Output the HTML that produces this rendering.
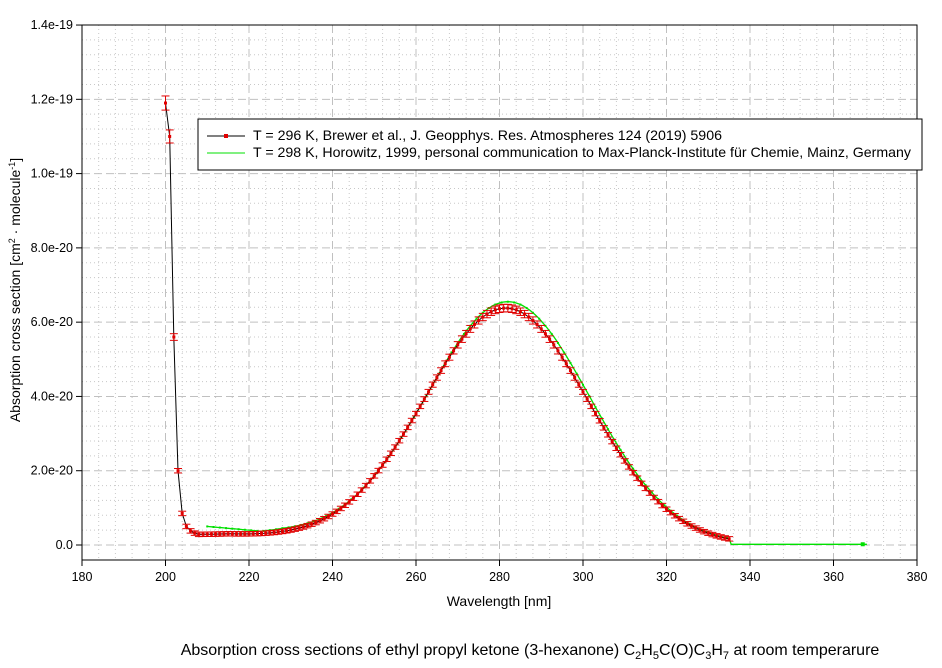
<!DOCTYPE html>
<html><head><meta charset="utf-8"><style>
body{margin:0;background:#fff;}
svg{display:block;font-family:"Liberation Sans",sans-serif;}
</style></head><body>
<svg id="s" width="942" height="668" xmlns="http://www.w3.org/2000/svg"></svg>
<script>
const s=document.getElementById('s');
const X=v=>82+(v-180)*835/200, Y=v=>545-v*37.14;
let h='';
for(let v=184;v<380;v+=4){if((v-180)%20)h+=`<line x1="${X(v)}" y1="25" x2="${X(v)}" y2="560" stroke="#c8c8c8" stroke-dasharray="1,3"/>`;}
for(let v=0.4;v<14;v+=0.4){if(Math.abs(v/2-Math.round(v/2))>0.01)h+=`<line x1="82" y1="${Y(v)}" x2="917" y2="${Y(v)}" stroke="#c8c8c8" stroke-dasharray="1,3"/>`;}
for(let v=200;v<380;v+=20)h+=`<line x1="${X(v)}" y1="25" x2="${X(v)}" y2="560" stroke="#c0c0c0" stroke-dasharray="8,4"/>`;
for(let v=0;v<14;v+=2)h+=`<line x1="82" y1="${Y(v)}" x2="917" y2="${Y(v)}" stroke="#c0c0c0" stroke-dasharray="8,4"/>`;
h+=`<rect x="82" y="25" width="835" height="535" fill="none" stroke="#000"/>`;
for(let v=180;v<=380;v+=20){h+=`<line x1="${X(v)}" y1="560" x2="${X(v)}" y2="566" stroke="#000"/><text x="${X(v)}" y="581" font-size="12.5" text-anchor="middle">${v}</text>`;}
const yl=['0.0','2.0e-20','4.0e-20','6.0e-20','8.0e-20','1.0e-19','1.2e-19','1.4e-19'];
yl.forEach((t,i)=>{h+=`<line x1="76" y1="${Y(i*2)}" x2="82" y2="${Y(i*2)}" stroke="#000"/><text x="73" y="${Y(i*2)+4}" font-size="12.5" text-anchor="end">${t}</text>`;});
function f(x){let b=x<215?0.28:Math.max(0,0.28*(1-(x-215)/45));return 6.38*Math.exp(-Math.pow(x-281.5,2)/(2*19.8*19.8))+b;}
const hd={200:11.9,201:11.0,202:5.6,203:2.0,204:0.85,205:0.5,206:0.38,207:0.32};
function g(x){if(x>335)return 0.02;let v=6.55*Math.exp(-Math.pow(x-282,2)/(2*19.7*19.7));if(x<228)v=Math.max(v+0.3,0.5-0.18*(x-210)/18);else v+=Math.max(0,0.3*(1-(x-228)/35));return v;}
let gp='';for(let x=210;x<=368;x+=0.5)gp+=`${X(x).toFixed(1)},${Y(g(x)).toFixed(1)} `;
h+=`<polyline points="${gp}" fill="none" stroke="#00e000" stroke-width="1.3"/>`;
for(let x=210;x<=335;x+=1.5)h+=`<rect x="${X(x)-1}" y="${Y(g(x))-1}" width="2" height="2" fill="#00e000"/>`;
h+=`<rect x="${X(367)-2}" y="${Y(0.02)-2}" width="4" height="4" fill="#00e000"/>`;
let pts=[];for(let x=200;x<=335;x+=1){let v=hd[x]!==undefined?hd[x]:f(x);if(x>=330)v=Math.max(0.02,v);pts.push([x,v]);}
h+=`<polyline points="${pts.map(p=>X(p[0]).toFixed(1)+','+Y(p[1]).toFixed(1)).join(' ')}" fill="none" stroke="#000" stroke-width="1"/>`;
pts.forEach(([x,v])=>{const e=Math.max(0.06,v*0.016),cx=X(x);
h+=`<g stroke="#e00000"><line x1="${cx}" y1="${Y(v+e)}" x2="${cx}" y2="${Y(v-e)}"/><line x1="${cx-4}" y1="${Y(v+e)}" x2="${cx+4}" y2="${Y(v+e)}"/><line x1="${cx-4}" y1="${Y(v-e)}" x2="${cx+4}" y2="${Y(v-e)}"/></g><rect x="${cx-1.5}" y="${Y(v)-1.5}" width="3" height="3" fill="#e00000"/>`;});
h+=`<rect x="198" y="119" width="724" height="51" fill="#fff" stroke="#000"/>
<line x1="207" y1="136" x2="245" y2="136" stroke="#000"/><rect x="224" y="134" width="4" height="4" fill="#e00000"/>
<line x1="207" y1="153" x2="245" y2="153" stroke="#00e000"/>
<text x="253" y="140" font-size="13.8" textLength="469" lengthAdjust="spacingAndGlyphs">T = 296 K, Brewer et al., J. Geopphys. Res. Atmospheres 124 (2019) 5906</text>
<text x="253" y="157" font-size="13.8" textLength="658" lengthAdjust="spacingAndGlyphs">T = 298 K, Horowitz, 1999, personal communication to Max-Planck-Institute für Chemie, Mainz, Germany</text>`;
h+=`<text x="499" y="606" font-size="14" text-anchor="middle">Wavelength [nm]</text>`;
h+=`<text transform="translate(20,290) rotate(-90)" font-size="14" text-anchor="middle">Absorption cross section [cm<tspan font-size="9" dy="-5">2</tspan><tspan dy="5"> · molecule</tspan><tspan font-size="9" dy="-5">-1</tspan><tspan dy="5">]</tspan></text>`;
h+=`<text x="530" y="655" font-size="16" text-anchor="middle">Absorption cross sections of ethyl propyl ketone (3-hexanone) C<tspan font-size="11" dy="4">2</tspan><tspan dy="-4">H</tspan><tspan font-size="11" dy="4">5</tspan><tspan dy="-4">C(O)C</tspan><tspan font-size="11" dy="4">3</tspan><tspan dy="-4">H</tspan><tspan font-size="11" dy="4">7</tspan><tspan dy="-4"> at room temperarure</tspan></text>`;
s.innerHTML=h;
</script>
</body></html>
